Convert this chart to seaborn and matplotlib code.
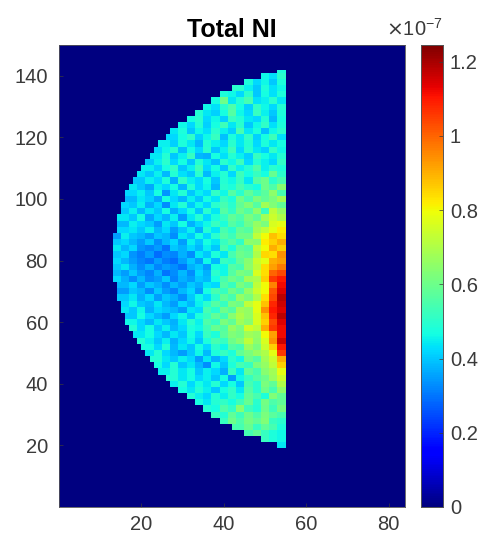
import numpy as np
import matplotlib
matplotlib.use("Agg")
import matplotlib.pyplot as plt
import seaborn as sns

plt.rcParams['font.family'] = ['Liberation Sans', 'DejaVu Sans']

title = "Total NI"
x_ticks = [20, 40, 60, 80]
y_ticks = [20, 40, 60, 80, 100, 120, 140]
cbar_ticks = [0, 0.2, 0.4, 0.6, 0.8, 1.0, 1.2]
cbar_labels = ["0", "0.2", "0.4", "0.6", "0.8", "1", "1.2"]
n_cols, n_rows = 84, 150
right_col = 55
vmax_e7 = 1.245

band_y = list(range(142, 18, -2))
left_edge = [54, 50, 46, 43, 40, 38, 36, 34, 32, 30, 28, 27, 25, 24, 23, 22, 21, 20, 19, 18, 17, 17,
             16, 16, 15, 15, 15, 14, 14, 14, 14, 14, 14, 14, 14, 15, 15, 15, 16, 16, 17, 17, 18, 19,
             20, 21, 22, 23, 24, 25, 27, 28, 30, 32, 34, 36, 38, 40, 43, 46, 50, 54]
# Values in units of 1e-9, left to right, the last value of each row sits at the right edge
v142 = [48]
v140 = [46, 43, 50]
v138 = [48, 42, 46, 40, 48]
v136 = [50, 45, 40, 48, 43, 46]
v134 = [48, 46, 42, 50, 40, 47, 43, 48]
v132 = [47, 60, 44, 49, 54, 43, 45, 50, 44]
v130 = [46, 43, 50, 55, 47, 41, 51, 46, 42, 49]
v128 = [49, 44, 41, 47, 56, 46, 42, 52, 45, 40, 48]
v126 = [47, 50, 42, 46, 41, 52, 49, 44, 42, 49, 38, 47]
v124 = [46, 42, 49, 41, 47, 53, 44, 50, 40, 46, 51, 43, 48]
v122 = [44, 48, 40, 46, 43, 50, 45, 41, 54, 44, 48, 39, 46, 50]
v120 = [42, 47, 51, 41, 46, 52, 39, 48, 44, 51, 41, 47, 53, 43]
v118 = [45, 41, 48, 44, 38, 49, 45, 42, 50, 44, 49, 42, 48, 44, 47]
v116 = [42, 46, 50, 39, 47, 42, 50, 40, 45, 53, 42, 50, 44, 41, 51, 46]
v114 = [44, 49, 40, 45, 52, 38, 37, 47, 43, 49, 45, 41, 52, 47, 44, 49]
v112 = [40, 45, 50, 42, 47, 40, 49, 44, 39, 50, 46, 53, 42, 49, 45, 42, 51]
v110 = [45, 41, 47, 51, 40, 45, 53, 42, 47, 40, 51, 45, 49, 55, 45, 50, 48]
v108 = [44, 40, 45, 38, 49, 43, 40, 50, 38, 45, 49, 42, 53, 47, 52, 47, 59, 50]
v106 = [40, 45, 42, 48, 37, 51, 45, 42, 47, 40, 49, 46, 52, 44, 56, 60, 50, 54]
v104 = [44, 40, 36, 45, 42, 47, 38, 49, 42, 46, 38, 50, 48, 54, 50, 47, 60, 55, 64]
v102 = [42, 45, 40, 47, 34, 44, 49, 40, 45, 42, 51, 46, 56, 50, 58, 53, 57, 65, 54]
v100 = [38, 44, 41, 36, 47, 42, 38, 45, 40, 47, 44, 52, 48, 60, 54, 62, 58, 62, 68]
v98 = [42, 40, 45, 37, 42, 33, 44, 49, 40, 46, 42, 50, 54, 50, 58, 63, 56, 68, 63, 58]
v96 = [40, 45, 38, 44, 40, 47, 37, 42, 47, 40, 50, 44, 56, 51, 60, 56, 65, 52, 72, 66]
v94 = [44, 40, 47, 36, 42, 38, 45, 35, 44, 49, 42, 48, 52, 58, 55, 62, 58, 68, 74, 70]
v92 = [38, 45, 42, 40, 35, 44, 40, 47, 37, 42, 46, 52, 48, 56, 53, 60, 66, 62, 76, 78]
v90 = [42, 44, 40, 45, 38, 42, 35, 40, 45, 37, 49, 44, 54, 50, 58, 56, 68, 72, 78, 82]
v88 = [35, 45, 40, 38, 35, 40, 38, 33, 44, 40, 47, 42, 50, 56, 53, 60, 60, 72, 80, 88, 84]
v86 = [40, 42, 38, 35, 40, 33, 38, 42, 35, 45, 40, 47, 44, 52, 56, 51, 65, 64, 82, 86, 90]
v84 = [44, 38, 42, 34, 32, 35, 30, 40, 37, 42, 38, 45, 40, 54, 48, 58, 56, 72, 80, 90, 86]
v82 = [40, 42, 34, 31, 35, 29, 33, 32, 37, 33, 44, 40, 48, 44, 54, 60, 58, 70, 85, 84, 94]
v80 = [42, 38, 35, 32, 30, 35, 31, 29, 35, 40, 35, 46, 38, 52, 50, 58, 64, 74, 78, 90, 92]
v78 = [40, 44, 37, 33, 37, 32, 35, 33, 30, 37, 40, 35, 47, 46, 56, 54, 65, 72, 84, 92, 97]
v76 = [38, 35, 40, 35, 32, 37, 30, 33, 38, 33, 42, 37, 50, 46, 56, 62, 60, 76, 84, 100, 104]
v74 = [42, 37, 33, 38, 33, 35, 40, 32, 37, 35, 40, 38, 47, 54, 60, 57, 68, 70, 86, 106, 110]
v72 = [38, 42, 35, 40, 37, 33, 38, 35, 40, 37, 44, 42, 56, 52, 62, 58, 72, 80, 96, 112]
v70 = [35, 40, 38, 33, 40, 35, 32, 38, 42, 35, 47, 54, 52, 60, 56, 66, 74, 80, 102, 114]
v68 = [40, 44, 37, 42, 35, 40, 37, 33, 40, 46, 42, 50, 58, 54, 66, 62, 70, 84, 104, 118]
v66 = [42, 46, 40, 38, 44, 38, 35, 42, 38, 45, 50, 56, 52, 62, 60, 72, 78, 88, 108, 116]
v64 = [44, 40, 46, 37, 42, 40, 38, 35, 44, 42, 54, 50, 60, 56, 68, 66, 78, 94, 110, 114]
v62 = [40, 47, 42, 38, 35, 42, 46, 40, 48, 52, 58, 54, 64, 70, 66, 76, 88, 108, 118]
v60 = [46, 42, 38, 44, 40, 37, 44, 50, 45, 55, 52, 62, 58, 68, 64, 76, 86, 104, 114]
v58 = [49, 42, 47, 40, 45, 38, 42, 48, 46, 53, 59, 56, 66, 62, 75, 72, 90, 106, 112]
v56 = [44, 47, 42, 38, 44, 40, 47, 42, 52, 48, 57, 63, 61, 68, 66, 80, 92, 112]
v54 = [49, 45, 40, 45, 37, 42, 46, 40, 48, 54, 52, 60, 64, 72, 65, 76, 94, 116]
v52 = [47, 42, 49, 38, 44, 40, 47, 42, 50, 46, 56, 54, 67, 62, 74, 86, 110]
v50 = [44, 49, 42, 38, 35, 40, 46, 38, 48, 52, 48, 58, 62, 66, 70, 78, 106]
v48 = [49, 44, 40, 45, 42, 35, 44, 37, 42, 50, 46, 60, 56, 68, 74, 90]
v46 = [47, 42, 49, 40, 44, 38, 33, 46, 40, 48, 54, 52, 62, 66, 72, 86]
v44 = [45, 49, 44, 47, 40, 45, 42, 37, 52, 44, 58, 54, 64, 68, 78]
v42 = [49, 44, 47, 42, 45, 40, 47, 35, 46, 52, 56, 60, 67, 74]
v40 = [45, 49, 42, 47, 44, 49, 42, 47, 40, 54, 50, 62, 58, 70]
v38 = [47, 44, 49, 45, 40, 47, 51, 44, 56, 50, 60, 54, 65]
v36 = [49, 45, 42, 49, 45, 51, 47, 58, 54, 48, 63, 58]
v34 = [47, 44, 49, 51, 47, 53, 59, 50, 61, 55, 58]
v32 = [49, 47, 55, 51, 64, 53, 49, 60, 53, 61]
v30 = [52, 49, 58, 53, 60, 55, 62, 57, 54]
v28 = [52, 60, 55, 61, 58, 63, 52, 50]
v26 = [54, 59, 52, 58, 54, 48]
v24 = [54, 58, 52, 48, 46]
v22 = [52, 48, 46]
v20 = [44]

band_values = [v142, v140, v138, v136, v134, v132, v130, v128, v126, v124, v122, v120, v118, v116,
               v114, v112, v110, v108, v106, v104, v102, v100, v98, v96, v94, v92, v90, v88, v86,
               v84, v82, v80, v78, v76, v74, v72, v70, v68, v66, v64, v62, v60, v58, v56, v54, v52,
               v50, v48, v46, v44, v42, v40, v38, v36, v34, v32, v30, v28, v26, v24, v22, v20]

grid = np.zeros((n_rows, n_cols))
for y, left, vals in zip(band_y, left_edge, band_values):
    for x in range(left, right_col + 1):
        k = (right_col - x) // 2
        v = vals[-1 - min(k, len(vals) - 1)]
        for row in (y, y + 1):
            if row <= 142:
                grid[row - 1, x - 1] = v * 1e-9

W, H = 483, 533
fig = plt.figure(figsize=(W / 100, H / 100), dpi=100, facecolor="white")
ax = fig.add_axes([59 / W, 1 - 507 / H, 346 / W, 462 / H])
cax = fig.add_axes([421 / W, 1 - 507 / H, 22 / W, 462 / H])

sns.heatmap(grid, ax=ax, cbar_ax=cax, cmap="jet", vmin=0, vmax=vmax_e7 * 1e-7,
            xticklabels=False, yticklabels=False, linewidths=0)
ax.set_ylim(0, n_rows)
ax.set_xlim(0, n_cols)
grey = "#3a3a3a"
ax.set_xticks(x_ticks, labels=[str(t) for t in x_ticks])
ax.set_yticks(y_ticks, labels=[str(t) for t in y_ticks])
ax.tick_params(axis="x", direction="in", length=3, width=0.5, color=grey,
               labelsize=14.5, labelcolor=grey, pad=6)
ax.tick_params(axis="y", direction="in", length=3, width=0.5, color=grey,
               labelsize=14.5, labelcolor=grey, pad=8)
ax.tick_params(top=False, right=False, bottom=True, left=True)
for s in ax.spines.values():
    s.set_visible(True)
    s.set_linewidth(0.6)
    s.set_color("#555555")
ax.set_title(title, fontsize=18, fontweight="bold", color="black", pad=6)
ax.set_xlabel("")
ax.set_ylabel("")

cax.set_yticks([t * 1e-7 for t in cbar_ticks], labels=cbar_labels)
cax.yaxis.set_ticks_position("right")
cax.tick_params(axis="y", direction="in", length=3, width=0.5, color=grey,
                labelsize=14.5, labelcolor=grey, pad=5)
for s in cax.spines.values():
    s.set_visible(True)
    s.set_linewidth(0.6)
    s.set_color("#555555")
cax.text(-0.32, 1.012, r"$\times\mathdefault{10^{-7}}$", transform=cax.transAxes, ha="center",
         va="bottom", fontsize=14.5, color=grey)

fig.savefig("out.png", dpi=100, facecolor="white")
